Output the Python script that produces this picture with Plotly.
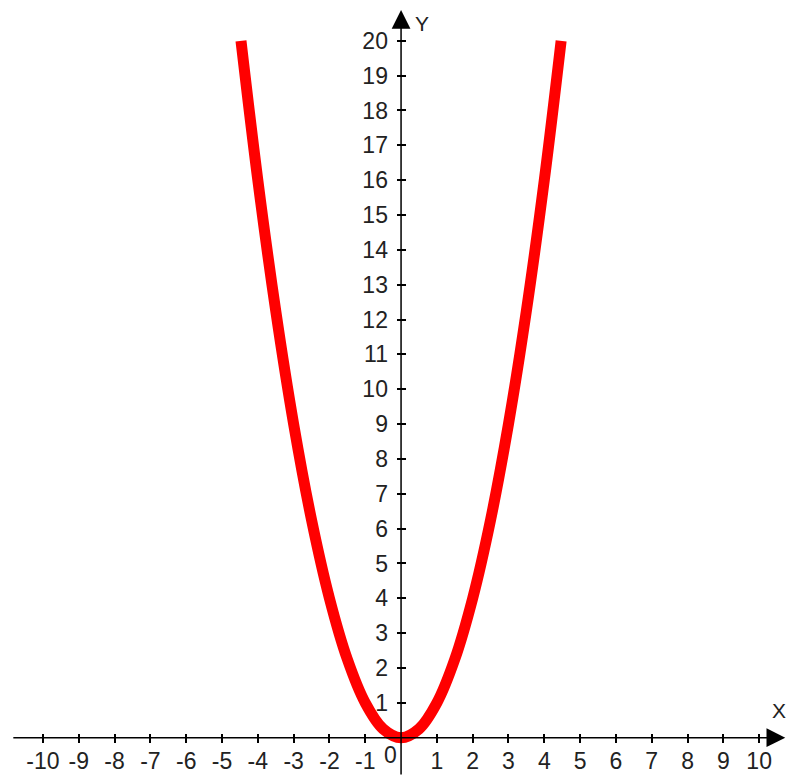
import plotly.graph_objects as go

# Curve points
x_vals = [-4.47, -4.0, -3.5, -3.0, -2.5, -2.0, -1.5, -1.0, -0.5, 0.0,
          0.5, 1.0, 1.5, 2.0, 2.5, 3.0, 3.5, 4.0, 4.47]
y_vals = [20.0, 16.0, 12.25, 9.0, 6.25, 4.0, 2.25, 1.0, 0.25, 0.0,
          0.25, 1.0, 2.25, 4.0, 6.25, 9.0, 12.25, 16.0, 20.0]

x_ticks = [-10, -9, -8, -7, -6, -5, -4, -3, -2, -1, 1, 2, 3, 4, 5, 6, 7, 8, 9, 10]
x_tick_labels = [str(v) for v in x_ticks]
y_ticks = list(range(1, 21))
y_tick_labels = [str(v) for v in y_ticks]

W, H = 786, 776
X_RANGE = [-11.2, 10.75]
Y_RANGE = [-1.1, 21.17]

FONT = "Liberation Sans Narrow, Liberation Sans, Arial, sans-serif"
TXT = "#222222"

# paper fractions of the origin
x0_frac = (0 - X_RANGE[0]) / (X_RANGE[1] - X_RANGE[0])
y0_frac = (0 - Y_RANGE[0]) / (Y_RANGE[1] - Y_RANGE[0])
TICKLEN = 9

fig = go.Figure()
fig.add_trace(go.Scatter(
    x=x_vals, y=y_vals, mode="lines",
    line=dict(color="#ff0000", width=11, shape="spline"),
    hoverinfo="skip", showlegend=False,
))

fig.update_layout(
    width=W, height=H,
    margin=dict(l=0, r=0, t=0, b=0),
    paper_bgcolor="white", plot_bgcolor="white",
    showlegend=False,
    xaxis=dict(
        range=X_RANGE, anchor="free",
        position=y0_frac + (TICKLEN / 2) / H,
        showgrid=False, zeroline=False, showline=False,
        ticks="outside", ticklen=TICKLEN, tickwidth=1.5, tickcolor="black",
        tickvals=x_ticks, ticktext=x_tick_labels,
        tickfont=dict(family=FONT, size=23, color=TXT),
        ticklabelstandoff=-2,
    ),
    yaxis=dict(
        range=Y_RANGE, anchor="free",
        position=x0_frac + (TICKLEN / 2) / W,
        showgrid=False, zeroline=False, showline=False,
        ticks="outside", ticklen=TICKLEN, tickwidth=1.5, tickcolor="black",
        tickvals=y_ticks, ticktext=y_tick_labels,
        tickfont=dict(family=FONT, size=23, color=TXT),
        ticklabelstandoff=4,
    ),
)

# Axis lines with arrow heads
fig.add_annotation(x=10.73, y=0, ax=-10.87, ay=0, axref="x", ayref="y",
                   xref="x", yref="y", text="", showarrow=True,
                   arrowhead=2, arrowsize=2.5, arrowwidth=1.5, arrowcolor="black")
fig.add_annotation(x=0, y=20.88, ax=0, ay=-1.1, axref="x", ayref="y",
                   xref="x", yref="y", text="", showarrow=True,
                   arrowhead=2, arrowsize=2.5, arrowwidth=1.5, arrowcolor="black")

# Axis names and origin label
fig.add_annotation(x=0, y=0, text="0", showarrow=False, xref="x", yref="y",
                   xshift=-11, yshift=-17, font=dict(family=FONT, size=23, color=TXT))
fig.add_annotation(x=10.73, y=0, text="X", showarrow=False, xref="x", yref="y",
                   xshift=-6, yshift=27, font=dict(family=FONT, size=21, color=TXT))
fig.add_annotation(x=0, y=20.88, text="Y", showarrow=False, xref="x", yref="y",
                   xshift=21, yshift=-13, font=dict(family=FONT, size=21, color=TXT))

fig.write_html("out.html",
               config={"displayModeBar": False},
               post_script="document.body.style.margin='0';document.body.style.overflow='hidden';")
